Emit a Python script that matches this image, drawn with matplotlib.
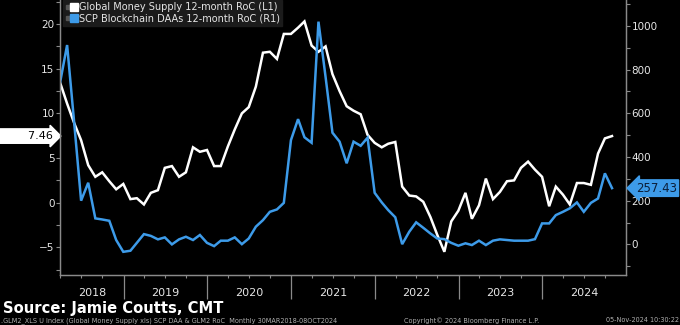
import numpy as np
import pandas as pd
import matplotlib
matplotlib.use("Agg")
import matplotlib.pyplot as plt
import matplotlib.dates as mdates
import matplotlib.transforms as mtrans
from matplotlib.lines import Line2D
from matplotlib.legend_handler import HandlerTuple

# --- data (monthly, Mar 2018 - Oct 2024) -------------------------------------
dates = pd.date_range("2018-03-31", periods=80, freq="ME")

money_supply = [  # Global Money Supply 12-month RoC, % (L1)
    13.4, 11.1, 8.9, 7.0, 4.2, 2.9, 3.4, 2.4, 1.5, 2.1,
    0.4, 0.5, -0.2, 1.1, 1.4, 3.9, 4.1, 2.9, 3.4, 6.2,
    5.7, 5.9, 4.1, 4.1, 6.3, 8.2, 10.0, 10.7, 13.0, 16.8,
    16.9, 16.1, 18.9, 18.9, 19.6, 20.3, 17.6, 16.9, 17.5, 14.4,
    12.5, 10.8, 10.3, 9.9, 7.6, 6.7, 6.2, 6.6, 6.8, 1.8,
    0.8, 0.7, 0.1, -1.6, -3.6, -5.5, -2.1, -0.9, 1.1, -1.8,
    -0.3, 2.7, 0.4, 1.2, 2.4, 2.5, 3.9, 4.6, 3.7, 2.9,
    -0.4, 1.8, 0.9, -0.2, 2.2, 2.2, 2.0, 5.5, 7.2, 7.46,
]

daas = [  # SCP Blockchain DAAs 12-month RoC, % (R1)
    744, 912, 555, 200, 282, 119, 114, 108, 20, -34,
    -29, 7, 47, 39, 23, 32, 0, 23, 35, 20,
    43, 7, -8, 17, 17, 32, 1, 27, 81, 111,
    149, 160, 190, 477, 573, 490, 465, 1019, 766, 511,
    470, 371, 470, 451, 488, 236, 192, 157, 124, 1,
    58, 101, 76, 50, 27, 24, 7, -6, 5, -3,
    17, -3, 17, 23, 20, 17, 17, 17, 24, 96,
    96, 134, 149, 165, 192, 149, 190, 210, 325, 257.43,
]

left_label = "Global Money Supply 12-month RoC (L1)"
right_label = "SCP Blockchain DAAs 12-month RoC (R1)"
years = list(range(2018, 2025))

WHITE = "#ffffff"
BLUE = "#3d9be9"
GREY = "#8a8a8a"
TXT = "#e6e6e6"

plt.rcParams["font.family"] = ["DejaVu Sans"]

fig = plt.figure(figsize=(6.8, 3.25), dpi=100, facecolor="black")
ax = fig.add_axes([60 / 680, 1 - 275 / 325, 566 / 680, 275 / 325])
ax.set_facecolor("black")
ax2 = ax.twinx()

ax.plot(dates, money_supply, color=WHITE, lw=1.8, solid_joinstyle="miter")
ax2.plot(dates, daas, color=BLUE, lw=1.8, solid_joinstyle="miter")

xmin, xmax = pd.Timestamp("2018-03-30"), pd.Timestamp("2024-12-31")
ax.set_xlim(xmin, xmax)
ax.set_ylim(-8.1, 22.7)
ax2.set_ylim(-140, 1118)

# spines
for a in (ax, ax2):
    a.spines["top"].set_visible(False)
    for s in ("left", "right", "bottom"):
        a.spines[s].set_color(GREY)
        a.spines[s].set_linewidth(0.9)

# y ticks
ax.set_yticks(np.arange(-5, 21, 5))
ax.set_yticks(np.arange(-7.5, 22.6, 2.5), minor=True)
ax.tick_params(axis="y", colors=GREY, labelcolor=TXT, labelsize=7.5,
               length=3, width=0.8, pad=1)
ax.tick_params(axis="y", which="minor", length=3, width=0.8, colors=GREY)

ax2.set_yticks(np.arange(0, 1001, 200))
ax2.set_yticks(np.arange(-100, 1101, 100), minor=True)
ax2.tick_params(axis="y", colors=GREY, labelcolor=TXT, labelsize=7.5,
                length=3, width=0.8, pad=1)
ax2.tick_params(axis="y", which="minor", length=3, width=0.8, colors=GREY)

# x ticks: long separators at year starts, small quarterly ticks, labels centred
ax.xaxis.set_major_locator(mdates.YearLocator())
ax.xaxis.set_minor_locator(mdates.MonthLocator(bymonth=[1, 4, 7, 10]))
ax.tick_params(axis="x", which="major", length=17, width=0.9, colors=GREY,
               labelbottom=False)
ax.tick_params(axis="x", which="minor", length=2.5, width=0.8, colors=GREY)
ax2.tick_params(axis="x", which="both", bottom=False)

trans = mtrans.blended_transform_factory(ax.transData, ax.transAxes)
for yr in years:
    lo = max(pd.Timestamp(f"{yr}-01-01"), xmin)
    hi = min(pd.Timestamp(f"{yr + 1}-01-01"), xmax)
    mid = mdates.date2num(lo) + (mdates.date2num(hi) - mdates.date2num(lo)) / 2
    ax.text(mid, -18 / 275, str(yr), transform=trans, ha="center", va="center",
            color=TXT, fontsize=8)

# legend
h1 = (Line2D([], [], marker="s", ls="", color="#555555", ms=2.5),
      Line2D([], [], marker="s", ls="", color=WHITE, ms=6))
h2 = (Line2D([], [], marker="s", ls="", color="#555555", ms=2.5),
      Line2D([], [], marker="s", ls="", color=BLUE, ms=6))
leg = ax2.legend([h1, h2], [left_label, right_label],
                 handler_map={tuple: HandlerTuple(ndivide=None, pad=0.1)},
                 loc="upper left", bbox_to_anchor=(0.005, 1.0),
                 fontsize=7, frameon=True, fancybox=False, borderpad=0.25,
                 labelspacing=0.1, handlelength=1.2, handletextpad=0.2,
                 borderaxespad=0)
leg.get_frame().set_facecolor("#1b1b1b")
leg.get_frame().set_edgecolor("#1b1b1b")
leg.get_frame().set_alpha(1)
for t in leg.get_texts():
    t.set_color(TXT)

# last-value tags
ax.annotate("        " + f"{money_supply[-1]:.2f}", xy=(0.078, money_supply[-1]),
            xycoords=("figure fraction", "data"), ha="right", va="center",
            fontsize=8, color="black", annotation_clip=False,
            bbox=dict(boxstyle="rarrow,pad=0.2", fc=WHITE, ec=WHITE))
ax2.annotate(f"{daas[-1]:.2f}", xy=(0.935, daas[-1]),
             xycoords=("figure fraction", "data"), ha="left", va="center",
             fontsize=8.5, color="#0b1f3a", annotation_clip=False,
             bbox=dict(boxstyle="larrow,pad=0.15", fc=BLUE, ec=BLUE))

# footer
fig.text(0.004, 1 - 308 / 325, "Source: Jamie Coutts, CMT", color=WHITE,
         fontsize=10.6, fontweight="bold", va="center", ha="left")
fig.text(0.002, 1 - 320.5 / 325,
         ".GLM2_XLS U Index (Global Money Supply xls) SCP DAA & GLM2 RoC  "
         "Monthly 30MAR2018-08OCT2024",
         color="#b0b0b0", fontsize=4.7, va="center", ha="left")
fig.text(472 / 680, 1 - 320.5 / 325, "Copyright\u00a9 2024 Bloomberg Finance L.P.",
         color="#b0b0b0", fontsize=4.7, va="center", ha="center")
fig.text(0.998, 1 - 320.5 / 325, "05-Nov-2024 10:30:22",
         color="#b0b0b0", fontsize=4.7, va="center", ha="right")

fig.savefig("out.png", dpi=100, facecolor="black")
